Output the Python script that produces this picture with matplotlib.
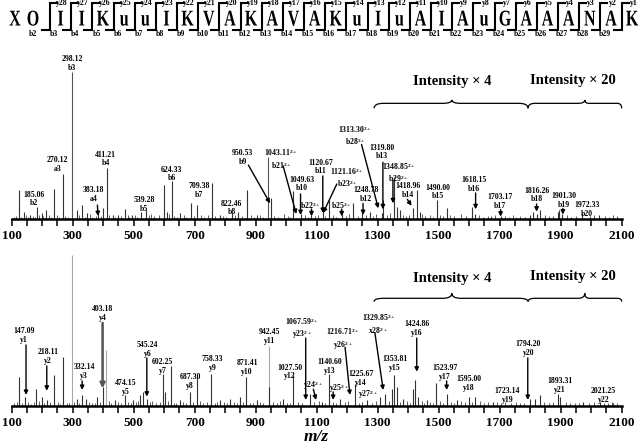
import matplotlib.pyplot as plt
from matplotlib.path import Path
from matplotlib.patches import PathPatch
from matplotlib.textpath import TextPath
from matplotlib.font_manager import FontProperties
from matplotlib.transforms import Affine2D

plt.rcParams['font.family'] = ['Liberation Serif', 'DejaVu Serif']
plt.rcParams['font.weight'] = 'bold'
plt.rcParams['mathtext.fontset'] = 'custom'
plt.rcParams['mathtext.rm'] = 'Liberation Serif:bold'
plt.rcParams['mathtext.bf'] = 'Liberation Serif:bold'
plt.rcParams['mathtext.it'] = 'Liberation Serif:bold:italic'

# peptide sequence shown above the spectra
sequence = ['X', 'O', 'I', 'I', 'K', 'u', 'u', 'I', 'K', 'V', 'A', 'K', 'A', 'V', 'A',
            'K', 'u', 'I', 'u', 'A', 'I', 'A', 'u', 'G', 'A', 'A', 'A', 'N', 'A', 'K']

# upper spectrum (b-ion series), relative intensity
top_mz = [125, 140, 160, 182, 198, 212, 239, 267, 298, 313, 330, 348, 383, 398, 411, 432,
          449, 471, 493, 523, 540, 599, 608, 624, 652, 687, 709, 756, 783, 822, 843, 870,
          903, 941, 950, 1023, 1049, 1081, 1120, 1141, 1182, 1220, 1248, 1275, 1313, 1319,
          1354, 1364, 1373, 1415, 1428, 1439, 1493, 1526, 1608, 1618, 1703, 1799, 1810,
          1821, 1831, 1891, 1896, 1905, 1970, 2026]
top_int = [19.7, 4.8, 2.7, 8.2, 4.1, 6.1, 20.4, 30.6, 100, 6.1, 9.5, 4.1, 3.4, 7.5, 34.7, 2.7,
           2.7, 6.8, 2.7, 4.8, 6.1, 23.1, 4.8, 25.9, 4.1, 10.9, 9.5, 24.5, 2.7, 4.1, 4.8, 19.7,
           2.7, 42.2, 14.3, 19.0, 3.4, 2.7, 6.8, 12.9, 3.4, 10.9, 4.1, 4.8, 4.1, 12.9,
           28.6, 8.2, 6.1, 7.5, 20.0, 4.8, 13.0, 7.5, 8.2, 3.4, 2.0, 2.7, 4.8,
           3.4, 6.1, 4.8, 6.1, 3.4, 4.1, 2.7]
top_noise = [(106, 1.4), (113, 2.2), (131, 1.6), (146, 2.8), (152, 1.2), (171, 2.0), (177, 1.5),
             (190, 3.0), (204, 1.8), (221, 2.4), (228, 1.3), (248, 2.6), (256, 1.7), (276, 2.1),
             (285, 1.4), (320, 2.5), (339, 1.6), (356, 3.2), (364, 1.5), (376, 2.3), (392, 1.8),
             (420, 2.7), (440, 1.4), (458, 2.2), (480, 3.0), (486, 1.5), (503, 2.4), (512, 1.7),
             (549, 2.6), (557, 3.4), (568, 1.8), (583, 2.5), (616, 3.1), (633, 2.0), (643, 1.6),
             (664, 2.7), (672, 1.5), (697, 2.2), (720, 2.9), (731, 1.6), (742, 2.4), (768, 1.8),
             (794, 2.3), (804, 1.5), (832, 2.6), (855, 1.9), (884, 2.4), (893, 1.6), (915, 2.8),
             (925, 1.7), (960, 2.2), (972, 1.5), (993, 3.1), (1005, 2.0), (1013, 1.6), (1060, 2.5),
             (1070, 1.7), (1093, 2.3), (1103, 3.0), (1127, 1.8), (1153, 2.6), (1163, 1.6),
             (1196, 2.2), (1206, 3.3), (1236, 2.0), (1263, 2.7), (1286, 1.8), (1296, 3.6),
             (1330, 2.4), (1340, 3.8), (1384, 2.9), (1393, 1.9), (1402, 2.6), (1445, 3.2),
             (1455, 2.0), (1470, 2.8), (1480, 1.7), (1505, 3.0), (1515, 2.1), (1538, 2.6),
             (1551, 1.8), (1574, 3.1), (1588, 2.0), (1632, 2.7), (1645, 1.6), (1660, 2.3),
             (1672, 1.8), (1684, 2.5), (1716, 2.2), (1730, 1.6), (1742, 2.4), (1755, 1.5),
             (1768, 2.1), (1782, 1.7), (1848, 2.6), (1862, 1.8), (1874, 2.2), (1922, 2.5),
             (1935, 1.7), (1950, 2.0), (1996, 1.8), (2010, 2.6), (2044, 2.0), (2058, 1.5),
             (2070, 2.4), (2085, 1.8)]

# lower spectrum (y-ion series), relative intensity
bot_mz = [125, 144, 180, 198, 215, 239, 267, 298, 313, 330, 344, 379, 398, 409, 439, 471,
          499, 521, 531, 543, 597, 603, 621, 652, 685, 707, 753, 783, 816, 849, 868, 903,
          942, 945, 991, 1023, 1078, 1116, 1141, 1176, 1226, 1264, 1308, 1324, 1346, 1354,
          1362, 1384, 1417, 1422, 1433, 1461, 1491, 1526, 1559, 1600, 1619, 1677, 1799,
          1816, 1832, 1892, 1898, 1974, 2030, 2073]
bot_int = [19.2, 6.0, 11.3, 6.0, 4.0, 20.5, 32.5, 100, 4.6, 7.3, 4.6, 6.0, 12.6, 37.1, 4.0, 7.3,
           4.0, 7.3, 9.3, 4.6, 21.2, 9.3, 26.5, 4.0, 9.3, 21.2, 21.2, 4.0, 4.6, 6.0, 19.2, 4.0,
           39.7, 12.6, 4.6, 20.5, 7.9, 2.6, 21.2, 4.6, 14.6, 4.0, 6.0, 7.9, 11.3, 20.5,
           12.6, 4.6, 11.3, 17.2, 6.0, 4.0, 15.2, 7.9, 4.0, 6.0, 6.0, 2.6, 4.6,
           4.6, 7.3, 7.9, 6.0, 2.6, 2.6, 2.0]
bot_noise = [(108, 1.6), (117, 2.4), (134, 1.5), (152, 2.6), (163, 1.3), (172, 2.2), (188, 2.9),
             (207, 1.7), (224, 2.3), (252, 2.5), (259, 1.4), (280, 2.0), (289, 1.5), (305, 2.2),
             (322, 1.8), (352, 2.6), (363, 1.5), (372, 2.0), (388, 2.4), (418, 2.8), (426, 1.5),
             (450, 2.3), (460, 1.6), (482, 2.7), (490, 1.8), (508, 2.2), (514, 3.0), (552, 2.4),
             (560, 3.2), (572, 1.7), (586, 2.6), (612, 2.9), (632, 2.0), (640, 1.5), (662, 2.5),
             (672, 1.6), (694, 2.3), (716, 2.8), (728, 1.6), (740, 2.2), (767, 1.7), (774, 2.5),
             (796, 2.2), (806, 1.5), (828, 2.6), (838, 1.8), (858, 2.4), (882, 2.1), (892, 1.5),
             (913, 2.7), (924, 1.6), (958, 2.4), (970, 1.8), (980, 2.9), (1002, 2.0), (1012, 1.7),
             (1040, 2.2), (1052, 1.6), (1090, 2.4), (1106, 2.8), (1128, 1.9), (1152, 2.5),
             (1164, 1.7), (1192, 2.3), (1204, 3.0), (1238, 2.1), (1250, 2.6), (1280, 1.8),
             (1293, 2.9), (1336, 3.4), (1372, 2.6), (1396, 3.0), (1405, 2.0), (1444, 3.1),
             (1452, 2.0), (1472, 2.7), (1482, 1.7), (1503, 3.3), (1514, 2.1), (1540, 2.5),
             (1550, 1.8), (1572, 2.9), (1586, 2.2), (1610, 2.4), (1634, 2.8), (1648, 1.6),
             (1662, 2.2), (1690, 2.4), (1704, 1.7), (1716, 2.3), (1738, 1.6), (1752, 2.2),
             (1766, 1.5), (1780, 2.0), (1846, 2.4), (1860, 1.7), (1876, 2.3), (1918, 2.6),
             (1932, 1.7), (1948, 2.1), (1960, 1.6), (1992, 1.9), (2008, 2.5), (2042, 2.0),
             (2056, 1.6), (2068, 2.3), (2086, 1.8)]

# fragment annotations: value text, ion name, charge
top_lab_val = ['185.06', '270.12', '298.12', '383.18', '411.21', '539.28', '624.33', '709.38',
               '822.46', '950.53', '1043.11', '1049.63', '1120.67', '1121.16', '', '',
               '1248.78', '1313.30', '1319.80', '1348.85', '1418.96', '1490.00', '1618.15',
               '1703.17', '1816.26', '1901.30', '1972.33']
top_lab_ion = ['b2', 'a3', 'b3', 'a4', 'b4', 'b5', 'b6', 'b7', 'b8', 'b9', 'b21', 'b10', 'b11',
               'b23', 'b22', 'b25', 'b12', 'b28', 'b13', 'b29', 'b14', 'b15', 'b16', 'b17',
               'b18', 'b19', 'b20']
top_lab_z = [1, 1, 1, 1, 1, 1, 1, 1, 1, 1, 2, 1, 1, 2, 2, 2, 1, 2, 1, 2, 1, 1, 1, 1, 1, 1, 1]

bot_lab_val = ['147.09', '218.11', '332.14', '403.18', '474.15', '545.24', '602.25', '687.30',
               '758.33', '871.41', '942.45', '1027.50', '1067.59', '', '1140.60', '', '1216.71',
               '1225.67', '', '1329.85', '1353.81', '1424.86', '1523.97', '1595.00', '1723.14',
               '1794.20', '1893.31', '2021.25']
bot_lab_ion = ['y1', 'y2', 'y3', 'y4', 'y5', 'y6', 'y7', 'y8', 'y9', 'y10', 'y11', 'y12', 'y23',
               'y24', 'y13', 'y25', 'y26', 'y14', 'y27', 'x28', 'y15', 'y16', 'y17', 'y18',
               'y19', 'y20', 'y21', 'y22']
bot_lab_z = [1, 1, 1, 1, 1, 1, 1, 1, 1, 1, 1, 1, 2, 2, 1, 2, 2, 1, 2, 2, 1, 1, 1, 1, 1, 1, 1, 1]

# label placement (m/z, height) and arrows (from m/z, from h, to m/z, to h)
top_lab_pos = [(173, 13.6), (250, 37.1), (298, 106.1), (368, 16.7), (408, 40.8), (534, 9.9),
               (625, 30.6), (714, 19.4), (822, 7.5), (857, 42.0), (983, 40.8), (1052, 23.8),
               (1114, 35.4), (1200, 28.4), (1078, 9.5), (1182, 9.5), (1262, 16.6), (1226, 57.0),
               (1314, 45.6), (1368, 31.8), (1398, 19.4), (1496, 18.4), (1617, 23.6),
               (1701, 12.0), (1821, 16.3), (1911, 12.7), (1986, 6.5)]
top_arrows = [(381, 9.5, 383, 2.0), (876, 36.7, 947, 10.7), (990, 36.1, 1033, 3.4),
              (1047, 17.0, 1047, 2.7), (1120, 29.3, 1120, 4.1), (1166, 23.8, 1121, 4.1),
              (1083, 6.8, 1083, 1.8), (1182, 6.8, 1182, 1.8), (1252, 10.6, 1252, 2.7),
              (1247, 50.7, 1302, 7.3), (1317, 38.6, 1317, 6.6), (1350, 26.4, 1350, 10.7),
              (1397, 13.4, 1411, 9.0), (1621, 17.7, 1621, 6.6), (1703, 6.5, 1703, 1.6),
              (1821, 10.2, 1821, 5.0), (1907, 7.1, 1907, 3.0)]

bot_lab_pos = [(139, 46.6), (220, 32.5), (337, 22.5), (399, 60.9), (474, 12.2), (545, 37.4),
               (595, 25.8), (685, 15.9), (758, 28.1), (872, 25.3), (946, 45.7), (1013, 22.3),
               (1051, 51.0), (1089, 13.7), (1144, 25.8), (1173, 11.5), (1185, 44.2), (1245, 18.3),
               (1269, 7.1), (1302, 54.0), (1357, 28.1), (1428, 51.0), (1521, 21.7), (1599, 14.6),
               (1725, 6.9), (1794, 37.6), (1897, 13.2), (2040, 6.9)]
bot_arrows = [(147, 40.2, 147, 7.1), (215, 26.3, 215, 9.9), (331, 16.4, 331, 10.4),
              (543, 31.6, 543, 6.0), (1064, 44.8, 1064, 3.8), (1089, 10.9, 1098, 3.8),
              (1154, 9.1, 1154, 3.8), (1193, 38.7, 1209, 7.1), (1291, 48.0, 1318, 10.4),
              (1428, 44.8, 1428, 22.5), (1526, 16.4, 1526, 10.4), (1792, 31.6, 1792, 3.8)]
bot_grey_arrows = [(398, 54.8, 398, 11.5)]

LABEL_SIZE = 5.6


def brace(ax, x0, x1, xt, base, drop, rise):
    w0 = (xt - x0) * 0.12
    w1 = (x1 - xt) * 0.12
    verts = [(x0, base - drop), (x0, base), (x0 + w0, base),
             (xt - w0, base), (xt, base), (xt, base + rise),
             (xt, base), (xt + w1, base),
             (x1 - w1, base), (x1, base), (x1, base - drop)]
    codes = [Path.MOVETO, Path.CURVE3, Path.CURVE3,
             Path.LINETO, Path.CURVE3, Path.CURVE3,
             Path.CURVE3, Path.CURVE3,
             Path.LINETO, Path.CURVE3, Path.CURVE3]
    ax.add_patch(PathPatch(Path(verts, codes), fill=False, lw=0.9, color='k', clip_on=False))


def draw_panel(ax, mz, inten, noise, ymax, vals, ions, zs, pos, arrows, brace_y, text_y, grey):
    nm = [n[0] for n in noise]
    nh = [n[1] for n in noise]
    ax.vlines(nm, 0, nh, color='#444444', lw=0.6)
    colors = [grey if h >= 35 else '#333333' for h in inten]
    ax.vlines(mz, 0, inten, colors=colors, lw=0.8)
    for v, ion, z, (x, y) in zip(vals, ions, zs, pos):
        sup = '$^{2+}$' if z == 2 else ''
        txt = ion + sup if v == '' else v + sup + '\n' + ion + sup
        ax.text(x, y, txt, ha='center', va='center', fontsize=LABEL_SIZE, fontweight='bold',
                linespacing=1.15, clip_on=False)
    for (xa, ya, xb, yb) in arrows:
        ax.annotate('', xy=(xb, yb), xytext=(xa, ya),
                    arrowprops=dict(arrowstyle='-|>', color='k', lw=1.0, mutation_scale=6,
                                    shrinkA=0, shrinkB=0))
    # intensity scaling braces
    brace(ax, 1288, 1793, 1543, brace_y[0], brace_y[1], brace_y[2])
    brace(ax, 1793, 2100, 1979, brace_y[0], brace_y[1], brace_y[2])
    ax.text(1543, text_y, 'Intensity × 4', ha='center', va='center', fontsize=10.5,
            fontweight='bold')
    ax.text(1941, text_y + 1, 'Intensity × 20', ha='center', va='center', fontsize=10.5,
            fontweight='bold')

    ax.set_xlim(100, 2100)
    ax.set_ylim(0, ymax)
    for s in ['top', 'left', 'right']:
        ax.spines[s].set_visible(False)
    ax.spines['bottom'].set_linewidth(1.8)
    ax.set_yticks([])
    ax.set_xticks(range(100, 2101, 200))
    ax.set_xticks(range(100, 2101, 50), minor=True)
    ax.tick_params(axis='x', which='both', direction='out', length=5, width=1.1, pad=3)
    ax.tick_params(axis='x', which='major', labelsize=9.5)
    for lab in ax.get_xticklabels():
        lab.set_fontweight('bold')
    ax.patch.set_alpha(0)


fig = plt.figure(figsize=(6.4, 4.48), dpi=100)

ax_top = fig.add_axes([11.7 / 640, 229 / 448, 610 / 640, 179 / 448])
draw_panel(ax_top, top_mz, top_int, top_noise, 121.8, top_lab_val, top_lab_ion, top_lab_z,
           top_lab_pos, top_arrows, (78.7, 3.4, 2.3), 93.4, '#555555')

ax_bot = fig.add_axes([11.7 / 640, 42.3 / 448, 610 / 640, 165.7 / 448])
draw_panel(ax_bot, bot_mz, bot_int, bot_noise, 109.7, bot_lab_val, bot_lab_ion, bot_lab_z,
           bot_lab_pos, bot_arrows, (71.1, 2.2, 3.3), 84.4, '#a8a8a8')
for (xa, ya, xb, yb) in bot_grey_arrows:
    ax_bot.annotate('', xy=(xb, yb), xytext=(xa, ya),
                    arrowprops=dict(arrowstyle='-|>', color='#555555', lw=1.8, mutation_scale=7,
                                    shrinkA=0, shrinkB=0))
ax_bot.set_xlabel('m/z', fontsize=12.5, fontstyle='italic', fontweight='bold', labelpad=0)

# sequence header with fragmentation brackets (pixel coordinates)
ax_h = fig.add_axes([0, 0, 1, 1])
ax_h.set_xlim(0, 640)
ax_h.set_ylim(448, 0)
ax_h.axis('off')
ax_h.patch.set_alpha(0)
fp = FontProperties(family='Liberation Serif', weight='bold')
step = 21.17
first = 50
n = len(sequence)
for i, aa in enumerate(sequence):
    if i == 0:
        xc = 15
    elif i == 1:
        xc = 33
    else:
        xc = first + (i - 2) * step + step / 2
    tp = TextPath((0, 0), aa, size=1, prop=fp)
    ext = tp.get_extents()
    tr = Affine2D().translate(-(ext.x0 + ext.width / 2), 0).scale(16, -22.5).translate(xc, 25.5)
    ax_h.add_patch(PathPatch(tr.transform_path(tp), facecolor='k', lw=0, clip_on=False))
for k in range(2, n):
    xb = first + (k - 2) * step
    ax_h.plot([xb - 8, xb, xb, xb + 7], [30.5, 30.5, 3.5, 3.5], color='k', lw=1.5,
              solid_joinstyle='miter', clip_on=False)
    ax_h.text(xb + 12, 3, 'y%d' % (n - k), ha='center', va='center', fontsize=5.6,
              fontweight='bold')
    ax_h.text(xb - 17, 34, 'b%d' % k, ha='center', va='center', fontsize=5.6,
              fontweight='bold')

fig.savefig('out.png', dpi=100)
